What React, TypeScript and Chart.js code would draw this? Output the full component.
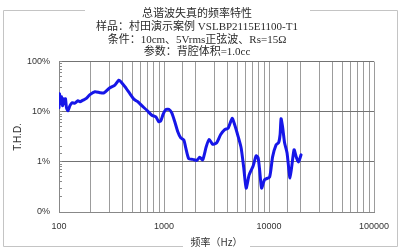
import React, { useEffect, useRef } from 'react';
import { Chart, registerables } from 'chart.js';

Chart.register(...registerables);

const titleLines = [
  '总谐波失真的频率特性',
  '样品：村田演示案例 VSLBP2115E1100-T1',
  '条件：10cm、5Vrms正弦波、Rs=15Ω',
  '参数：背腔体积=1.0cc',
];

const xAxisTitle = '频率（Hz）';
const yAxisTitle = 'T.H.D.';

const yTickValues = [0.1, 1, 10, 100];
const yTickLabels = ['0%', '1%', '10%', '100%'];

const freqHz = [
  100, 101.1, 103.3, 105.6, 108, 110.4, 112.8, 115.3, 117.8, 121.8,
  127.2, 132.9, 141.9, 151.6, 158.3, 169.1, 180.6, 197.1, 219.9, 245.3,
  267.8, 305.3, 340.7, 371.9, 388.5, 424.1, 473, 516.4, 563.6, 615.2,
  686.4, 765.8, 835.8, 892.5, 932.5, 984.8, 1040, 1111, 1186, 1267,
  1353, 1445, 1543, 1612, 1721, 1879, 2050, 2189, 2338, 2524,
  2696, 2910, 3176, 3467, 3785, 4085, 4459, 4710, 5085, 5429,
  5736, 6059, 6469, 7062, 7541, 7877, 8141, 8505, 9080, 10133,
  10820, 11678, 12340, 12751, 13033, 13468, 14070, 14862, 15866, 17320,
  18300, 19116, 20195,
];

const thdPercent = [
  12.0, 22.9, 14.5, 20.0, 13.2, 18.2, 14.5, 18.2, 12.0, 10.5,
  13.2, 15.1, 14.8, 16.6, 15.8, 17.0, 18.2, 21.9, 25.1, 24.0,
  23.7, 30.2, 33.9, 42.7, 39.8, 31.6, 22.9, 17.8, 15.8, 13.2,
  10.7, 8.5, 7.9, 6.3, 6.6, 9.1, 11.0, 11.2, 9.5, 6.3,
  4.0, 3.0, 2.75, 1.9, 1.15, 1.12, 1.07, 1.23, 1.1, 2.0,
  2.8, 2.24, 2.4, 3.5, 4.4, 4.7, 7.4, 5.5, 3.2, 1.9,
  0.79, 0.30, 0.55, 0.83, 1.32, 1.2, 0.69, 0.30, 0.44, 0.50,
  1.26, 2.19, 2.4, 3.47, 7.24, 5.0, 2.4, 1.51, 0.48, 1.74,
  1.2, 1.0, 1.38,
];

const isDecade = (v: number) => {
  const l = Math.log10(v);
  return Math.abs(l - Math.round(l)) < 1e-6;
};

const framePlugin = {
  id: 'frame',
  beforeDraw(chart: any) {
    const ctx = chart.ctx;
    ctx.save();
    ctx.fillStyle = '#ffffff';
    ctx.fillRect(0, 0, chart.width, chart.height);
    ctx.strokeStyle = '#c4c4c4';
    ctx.lineWidth = 1;
    ctx.beginPath();
    ctx.moveTo(85, 10.5);
    ctx.lineTo(3.5, 10.5);
    ctx.lineTo(3.5, 246.5);
    ctx.lineTo(183, 246.5);
    ctx.moveTo(250, 246.5);
    ctx.lineTo(397.5, 246.5);
    ctx.lineTo(397.5, 10.5);
    ctx.lineTo(310, 10.5);
    ctx.stroke();
    ctx.restore();
  },
};

export default function App() {
  const ref = useRef<HTMLCanvasElement | null>(null);

  useEffect(() => {
    document.body.style.margin = '0';
    if (!ref.current) return;
    const chart = new Chart(ref.current, {
      type: 'line',
      data: {
        datasets: [
          {
            data: freqHz.map((f, i) => ({ x: f, y: thdPercent[i] })),
            borderColor: '#1616e8',
            borderWidth: 3,
            pointRadius: 0,
            tension: 0.2,
            fill: false,
            borderJoinStyle: 'round',
            borderCapStyle: 'round',
          },
        ],
      },
      options: {
        responsive: false,
        animation: false,
        layout: { padding: { left: 0, right: 6, top: 0, bottom: 0 } },
        plugins: {
          legend: { display: false },
          tooltip: { enabled: false },
          title: {
            display: true,
            text: titleLines,
            color: '#2a2a2a',
            font: {
              size: 11,
              weight: 'normal',
              family: '"Liberation Serif", "Noto Sans CJK SC", serif',
              lineHeight: 1.15,
            },
            padding: { top: 8, bottom: 3 },
          },
        },
        scales: {
          x: {
            type: 'logarithmic',
            min: 100,
            max: 100000,
            afterFit: (s: any) => {
              s.height = 38;
            },
            ticks: {
              autoSkip: false,
              maxRotation: 0,
              minRotation: 0,
              padding: 9,
              color: '#333',
              font: { size: 9, family: '"Liberation Sans", Arial, sans-serif' },
              callback: (v: any) => (isDecade(Number(v)) ? String(Math.round(Number(v))) : ''),
            },
            grid: { color: '#9c9c9c', lineWidth: 1, drawTicks: false },
            border: { color: '#888', width: 1 },
            title: {
              display: true,
              text: xAxisTitle,
              color: '#333',
              font: { size: 10, family: '"Noto Sans CJK SC", sans-serif' },
              padding: { top: 0, bottom: 2 },
            },
          },
          y: {
            type: 'logarithmic',
            min: 0.1,
            max: 100,
            afterFit: (s: any) => {
              s.width = 59;
            },
            ticks: {
              autoSkip: false,
              padding: 12,
              color: '#333',
              font: { size: 9, family: '"Liberation Sans", Arial, sans-serif' },
              callback: (v: any) => {
                const n = Number(v);
                const idx = yTickValues.findIndex((t) => Math.abs(t - n) < 1e-9 * Math.max(1, t));
                return idx >= 0 ? yTickLabels[idx] : '';
              },
            },
            grid: {
              color: (c: any) => (c.tick && isDecade(c.tick.value) ? '#737373' : 'rgba(0,0,0,0)'),
              lineWidth: 1,
              drawTicks: true,
              tickLength: -3,
              tickColor: '#8a8a8a',
              tickWidth: 1,
            },
            border: { color: '#888', width: 1 },
            title: {
              display: true,
              text: yAxisTitle,
              color: '#333',
              font: { size: 10, family: '"Liberation Sans", Arial, sans-serif' },
              padding: { top: 12, bottom: 0 },
            },
          },
          y2: {
            type: 'linear',
            position: 'right',
            display: true,
            afterFit: (s: any) => {
              s.width = 20;
            },
            ticks: { display: false },
            grid: { drawOnChartArea: false, drawTicks: false },
            border: { display: false },
          },
        },
      },
      plugins: [framePlugin],
    } as any);
    return () => chart.destroy();
  }, []);

  return <canvas ref={ref} width={400} height={250} style={{ display: 'block' }} />;
}
